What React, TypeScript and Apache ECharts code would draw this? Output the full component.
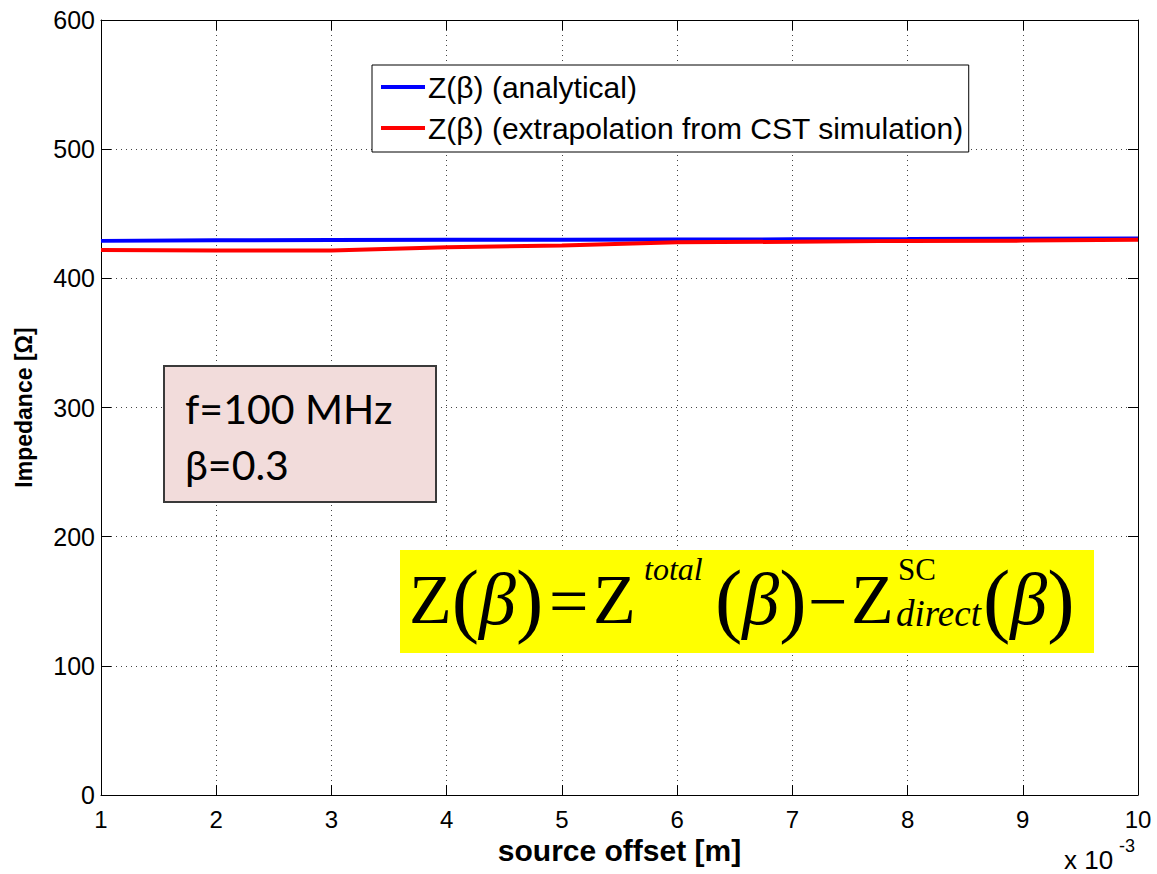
import React, { useEffect, useRef } from "react";
import * as echarts from "echarts";

// source offset, in units of 1e-3 m
const offsets = [1, 2, 3, 4, 5, 6, 7, 8, 9, 10];
// analytical impedance [Ohm]
const analytical = [429.0, 429.4, 429.6, 429.8, 429.9, 430.0, 430.2, 430.4, 430.7, 430.9];
// impedance extrapolated from the CST simulation [Ohm]
const extrapolated = [422.0, 421.6, 421.5, 424.0, 425.5, 428.0, 428.3, 429.0, 429.2, 429.8];

const seriesNames = ["Z(β) (analytical)", "Z(β) (extrapolation from CST simulation)"];
const seriesColors = ["#0000ff", "#ff0000"];

const SANS = "'Liberation Sans', Arial, sans-serif";
const SERIF = "'Liberation Serif', 'Times New Roman', serif";

const MAIN = 70;
const PAREN = 82;
const BETA = 74;

const formulaRich = {
  z: { fontFamily: SERIF, fontSize: MAIN, lineHeight: 90, fill: "#000" },
  p: { fontFamily: SERIF, fontSize: PAREN, lineHeight: 90, fill: "#000" },
  b: { fontFamily: SERIF, fontSize: BETA, fontStyle: "italic", lineHeight: 90, fill: "#000" },
};

function formulaText(text: string, x: number, y: number, size: number, italic = false) {
  return {
    type: "text",
    x,
    y,
    z: 110,
    style: {
      text,
      fill: "#000",
      font: `${italic ? "italic " : ""}${size}px ${SERIF}`,
      align: "left",
      verticalAlign: "middle",
    },
  };
}

function formulaRichText(text: string, x: number, y: number) {
  return {
    type: "text",
    x,
    y,
    z: 110,
    style: {
      text,
      rich: formulaRich,
      align: "left",
      verticalAlign: "middle",
    },
  };
}

export default function App() {
  const ref = useRef<HTMLDivElement>(null);

  useEffect(() => {
    if (!ref.current) return;
    const chart = echarts.init(ref.current, undefined, { renderer: "svg" });

    const gridLine = { show: true, lineStyle: { color: "#444", width: 1, type: [1, 4] as any } };
    const frameLine = { show: true, onZero: false, lineStyle: { color: "#000", width: 1 } };
    const tick = { show: true, inside: true, length: 10, lineStyle: { color: "#000" } };

    const mid = 599;

    chart.setOption({
      animation: false,
      backgroundColor: "#fff",
      grid: { left: 101, right: 19, top: 20, bottom: 79, containLabel: false },
      legend: {
        data: seriesNames.map((name) => ({ name, icon: "rect" })),
        orient: "vertical",
        left: 372,
        top: 65,
        itemWidth: 44,
        itemHeight: 4,
        itemGap: 11,
        padding: [7, 5, 9, 9],
        borderColor: "#000",
        borderWidth: 1,
        backgroundColor: "#fff",
        selectedMode: false,
        textStyle: { fontSize: 30, fontFamily: SANS, color: "#000", padding: [0, 0, 0, -2] },
      },
      xAxis: [
        {
          type: "value",
          min: 1,
          max: 10,
          interval: 1,
          name: "source offset [m]",
          nameLocation: "middle",
          nameGap: 36,
          nameTextStyle: { fontSize: 30, fontWeight: "bold", fontFamily: SANS, color: "#000" },
          axisLine: frameLine,
          axisTick: tick,
          axisLabel: { fontSize: 24, fontFamily: SANS, color: "#000", margin: 12 },
          splitLine: gridLine,
        },
        {
          type: "value",
          position: "top",
          min: 1,
          max: 10,
          interval: 1,
          axisLine: frameLine,
          axisTick: tick,
          axisLabel: { show: false },
          splitLine: { show: false },
        },
      ],
      yAxis: [
        {
          type: "value",
          min: 0,
          max: 600,
          interval: 100,
          name: "Impedance [Ω]",
          nameLocation: "middle",
          nameGap: 66,
          nameTextStyle: { fontSize: 23, fontWeight: "bold", fontFamily: SANS, color: "#000" },
          axisLine: frameLine,
          axisTick: tick,
          axisLabel: { fontSize: 25, fontFamily: SANS, color: "#000", margin: 6 },
          splitLine: gridLine,
        },
        {
          type: "value",
          position: "right",
          min: 0,
          max: 600,
          interval: 100,
          axisLine: frameLine,
          axisTick: tick,
          axisLabel: { show: false },
          splitLine: { show: false },
        },
      ],
      series: [
        {
          name: seriesNames[0],
          type: "line",
          data: offsets.map((x, i) => [x, analytical[i]]),
          showSymbol: false,
          lineStyle: { color: seriesColors[0], width: 4 },
          itemStyle: { color: seriesColors[0] },
          z: 3,
        },
        {
          name: seriesNames[1],
          type: "line",
          data: offsets.map((x, i) => [x, extrapolated[i]]),
          showSymbol: false,
          lineStyle: { color: seriesColors[1], width: 4 },
          itemStyle: { color: seriesColors[1] },
          z: 4,
        },
      ],
      graphic: [
        // parameter box
        {
          type: "rect",
          z: 100,
          shape: { x: 164, y: 366, width: 272, height: 136 },
          style: { fill: "#f2dcdb", stroke: "#3a3a3a", lineWidth: 2 },
        },
        {
          type: "text",
          z: 110,
          x: 185,
          y: 408,
          style: { text: "f=100 MHz", font: "41px Lato, 'Open Sans', sans-serif", fill: "#000", verticalAlign: "middle" },
        },
        {
          type: "text",
          z: 110,
          x: 185,
          y: 464,
          style: { text: "β=0.3", font: "41px Lato, 'Open Sans', sans-serif", fill: "#000", verticalAlign: "middle" },
        },
        // formula box: Z(β) = Z^total(β) − Z^SC_direct(β)
        {
          type: "rect",
          z: 100,
          shape: { x: 400, y: 550, width: 694, height: 103 },
          style: { fill: "#ffff00" },
        },
        formulaRichText("{z|Z}{p|(}{b|β}{p|)}", 409, mid),
        formulaText("=", 549, mid + 2, MAIN),
        formulaText("Z", 593, mid, MAIN),
        formulaText("total", 644, 569, 32, true),
        formulaRichText("{p|(}{b|β}{p|)}", 715, mid),
        formulaText("−", 808, mid + 2, MAIN),
        formulaText("Z", 851, mid, MAIN),
        formulaText("SC", 898, 569, 31),
        formulaText("direct", 896, 613, 37, true),
        formulaRichText("{p|(}{b|β}{p|)}", 983, mid),
        // axis exponent
        {
          type: "text",
          z: 110,
          x: 1064,
          y: 860,
          style: { text: "x 10", font: `26px ${SANS}`, fill: "#000", verticalAlign: "middle" },
        },
        {
          type: "text",
          z: 110,
          x: 1119,
          y: 846,
          style: { text: "-3", font: `18px ${SANS}`, fill: "#000", verticalAlign: "middle" },
        },
      ],
    });

    return () => chart.dispose();
  }, []);

  return (
    <div
      ref={ref}
      style={{ position: "fixed", left: 0, top: 0, width: 1157, height: 874, background: "#fff" }}
    />
  );
}
